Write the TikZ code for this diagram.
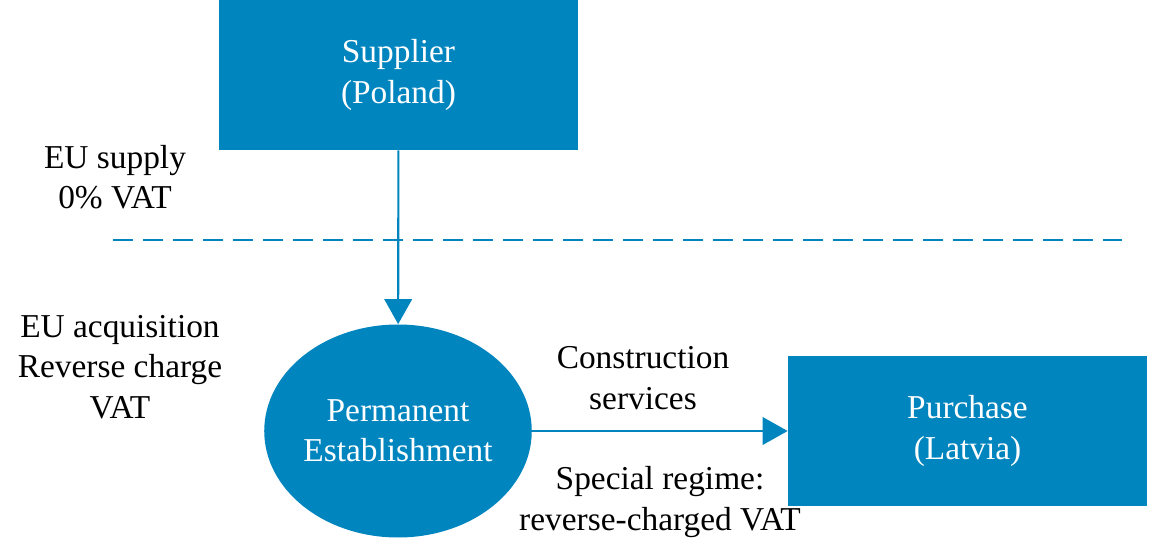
\documentclass[tikz,border=0pt]{standalone}
\usepackage{fontspec}
\setmainfont{Liberation Serif}
\usetikzlibrary{arrows.meta,shapes.geometric}
\definecolor{vatblue}{HTML}{0085BF}
\begin{document}
\begin{tikzpicture}[
	every node/.style={font=\fontsize{19}{23}\selectfont, align=center},
	party/.style={fill=vatblue, text=white, minimum width=7.18cm, minimum height=3cm, inner sep=0pt},
	flow/.style={vatblue, line width=1.2pt, -{Triangle[length=0.5cm, width=0.55cm]}}]
		\useasboundingbox (0,0) rectangle (22.98,11.14);
		% Parties
		\node[party] (supplier) at (7.97,9.64) {Supplier\\(Poland)};
		\node[ellipse, fill=vatblue, text=white, minimum width=4.8cm, minimum height=4.26cm, inner sep=0pt] (pe) at (7.96,2.52) {Permanent\\Establishment};
		\node[party] (purchase) at (19.35,2.52) {Purchase\\(Latvia)};
		% Border
		\coordinate (bl) at (2.26,6.34);
		\coordinate (br) at (22.44,6.34);
		\draw[vatblue, line width=1.2pt, dash pattern=on 0.4cm off 0.2cm] (bl) -- (br);
		% Flows
		\draw[flow] (supplier) -- (pe);
		\draw[flow] (pe) -- (purchase);
		% Labels
		\node (supply) at (2.3,7.6) {EU supply\\0\% VAT};
		\node (acq) at (2.4,3.8) {EU acquisition\\Reverse charge\\VAT};
		\node (cons) at (12.86,3.58) {Construction\\services};
		\node (regime) at (13.2,1.1) {Special regime:\\reverse-charged VAT};
	\end{tikzpicture}
\end{document}
